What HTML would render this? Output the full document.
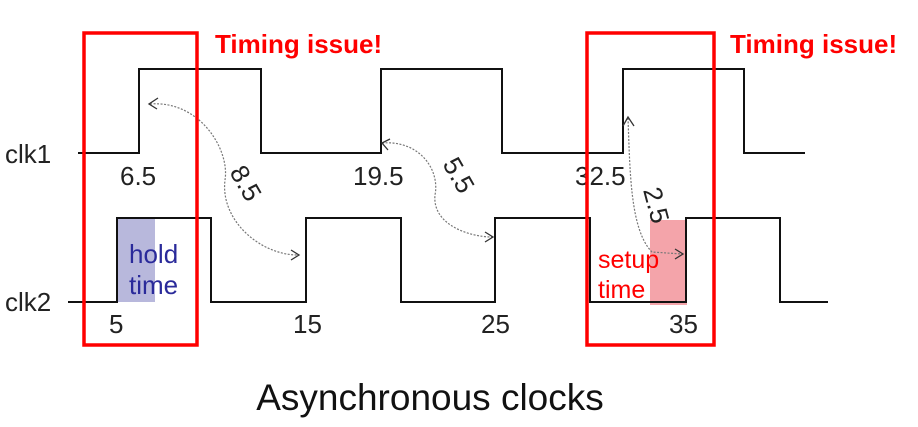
<!DOCTYPE html>
<html><head><style>
body{margin:0;background:#fff;width:918px;height:422px;overflow:hidden}
</style></head><body>
<svg width="918" height="422" xmlns="http://www.w3.org/2000/svg" font-family="Liberation Sans, sans-serif">
<rect x="118" y="218" width="37" height="84" fill="#b8b8dc"/>
<rect x="650" y="220" width="37" height="85" fill="#f4a4aa"/>
<polyline fill="none" stroke="#111" stroke-width="2" points="78,153 139,153 139,69 261,69 261,153 381,153 381,69 502,69 502,153 623,153 623,69 744,69 744,153 805,153"/>
<polyline fill="none" stroke="#111" stroke-width="2" points="68,302 117,302 117,218 211,218 211,302 306,302 306,218 401,218 401,302 495,302 495,218 590,218 590,302 686,302 686,218 780,218 780,302 828,302"/>
<g fill="none" stroke="#777" stroke-width="1.2" stroke-dasharray="2,1.5">
<path d="M150,104 C200,100 230,150 225,180 C220,220 260,255 298,255"/>
<path d="M382,143 C420,140 440,170 435,195 C432,225 470,237 492,237"/>
<path d="M628,118 C630,170 630,230 652,252 L682,254"/>
</g>
<g fill="none" stroke="#333" stroke-width="1.3">
<path d="M158,98 L149,104 L157,109"/>
<path d="M291,250 L299,255 L291,260"/>
<path d="M390,139 L382,143 L388,150"/>
<path d="M485,232 L493,237 L485,242"/>
<path d="M623,126 L628,117 L634,126"/>
<path d="M675,249 L683,254 L675,259"/>
</g>
<g font-size="26" fill="#222">
<text x="5" y="163">clk1</text>
<text x="5" y="311">clk2</text>
<text x="120" y="185">6.5</text>
<text x="353" y="185">19.5</text>
<text x="575" y="185">32.5</text>
<text x="109" y="333">5</text>
<text x="293" y="333">15</text>
<text x="481" y="333">25</text>
<text x="669" y="333">35</text>
<text transform="translate(229,172) rotate(60)">8.5</text>
<text transform="translate(442,164) rotate(60)">5.5</text>
<text transform="translate(643,190) rotate(75)">2.5</text>
</g>
<g font-size="26" fill="#2a2a9a"><text x="129" y="263">hold</text><text x="129" y="294">time</text></g>
<g font-size="25" fill="#f00"><text x="598" y="268">setup</text><text x="598" y="298">time</text></g>
<g font-size="26" font-weight="bold" fill="#f00"><text x="215" y="53">Timing issue!</text><text x="730" y="53">Timing issue!</text></g>
<rect x="84" y="33" width="113" height="312" fill="none" stroke="#f00" stroke-width="3.5"/>
<rect x="587" y="33" width="127" height="312" fill="none" stroke="#f00" stroke-width="3.5"/>
<text x="430" y="410" font-size="37" fill="#111" text-anchor="middle">Asynchronous clocks</text>
</svg>
</body></html>
